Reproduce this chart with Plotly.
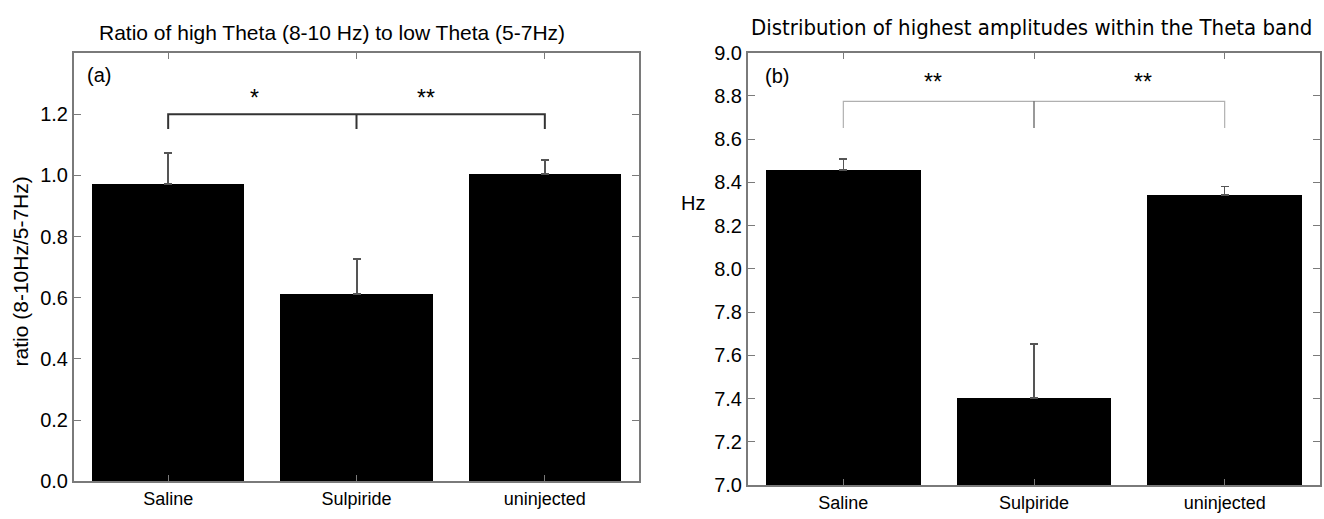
import plotly.graph_objects as go

# ---------------- data ----------------
categories = ["Saline", "Sulpiride", "uninjected"]

# panel (a): ratio of high theta to low theta
ratio_mean = [0.972, 0.611, 1.005]
ratio_err_up = [0.101, 0.116, 0.045]
ratio_ticks = [0.0, 0.2, 0.4, 0.6, 0.8, 1.0, 1.2]
ratio_range = [0.0, 1.4]
bracket_a_top = 1.2
bracket_a_low = 1.152
stars_a_pos = [0.46, 1.37]
stars_a_y = [1.253, 1.253]
stars_a_text = ["*", "**"]

# panel (b): peak frequency within theta band (Hz)
hz_mean = [8.457, 7.403, 8.342]
hz_err_up = [0.052, 0.25, 0.040]
hz_ticks = [7.0, 7.2, 7.4, 7.6, 7.8, 8.0, 8.2, 8.4, 8.6, 8.8, 9.0]
hz_range = [7.0, 9.0]
bracket_b_top = 8.775
bracket_b_low = 8.652
stars_b_pos = [0.47, 1.57]
stars_b_y = [8.865, 8.865]
stars_b_text = ["**", "**"]

title_a = "Ratio of high Theta (8-10 Hz) to low Theta (5-7Hz)"
title_b = "Distribution of highest amplitudes within the Theta band"
ylabel_a = "ratio (8-10Hz/5-7Hz)"
ylabel_b = "Hz"

# ---------------- figure ----------------
W, H = 1324, 519
FONT = "Liberation Sans, Arial, Helvetica, sans-serif"
NARROW = "Liberation Sans Narrow, Arial Narrow, DejaVu Sans Condensed, sans-serif"
AXC = "#7a7a7a"

fig = go.Figure()

fig.add_trace(go.Bar(
    x=categories, y=ratio_mean, width=0.81,
    marker=dict(color="black", line=dict(width=0)),
    error_y=dict(type="data", symmetric=False, array=ratio_err_up,
                 arrayminus=[0] * len(ratio_mean), color="#555555",
                 thickness=2, width=4),
    xaxis="x", yaxis="y", showlegend=False, hoverinfo="skip"))

fig.add_trace(go.Bar(
    x=categories, y=[v - hz_range[0] for v in hz_mean], base=hz_range[0], width=0.81,
    marker=dict(color="black", line=dict(width=0)),
    error_y=dict(type="data", symmetric=False, array=hz_err_up,
                 arrayminus=[0] * len(hz_mean), color="#555555",
                 thickness=1.5, width=4),
    xaxis="x2", yaxis="y2", showlegend=False, hoverinfo="skip"))

# significance brackets (drawn from category positions and bracket levels)
fig.add_trace(go.Scatter(
    x=[categories[0], categories[0], categories[2], categories[2], None,
       categories[1], categories[1]],
    y=[bracket_a_low, bracket_a_top, bracket_a_top, bracket_a_low, None,
       bracket_a_top, bracket_a_low],
    mode="lines", line=dict(color="#333333", width=2),
    xaxis="x", yaxis="y", showlegend=False, hoverinfo="skip"))

fig.add_trace(go.Scatter(
    x=[categories[0], categories[0], categories[2], categories[2]],
    y=[bracket_b_low, bracket_b_top, bracket_b_top, bracket_b_low],
    mode="lines", line=dict(color="#b0b0b0", width=1.2),
    xaxis="x2", yaxis="y2", showlegend=False, hoverinfo="skip"))
fig.add_trace(go.Scatter(
    x=[categories[1], categories[1]],
    y=[bracket_b_top, bracket_b_low],
    mode="lines", line=dict(color="#555555", width=1.2),
    xaxis="x2", yaxis="y2", showlegend=False, hoverinfo="skip"))

common_x = dict(type="category", range=[-0.5, 2.5], showline=True, linecolor=AXC,
                linewidth=2, mirror="ticks", ticks="inside", ticklen=6,
                tickcolor=AXC, tickwidth=1.2, showgrid=False, zeroline=False,
                tickfont=dict(family=FONT, size=18, color="black"))
common_y = dict(showline=True, linecolor=AXC, linewidth=2, mirror="ticks",
                ticks="inside", ticklen=7, tickcolor=AXC, tickwidth=1.2,
                showgrid=False, zeroline=False, tickformat=".1f",
                tickfont=dict(family=FONT, size=20, color="black"))

fig.update_layout(
    width=W, height=H, margin=dict(l=0, r=0, t=0, b=0),
    paper_bgcolor="white", plot_bgcolor="white",
    xaxis=dict(domain=[74 / W, 639 / W], anchor="y", **common_x),
    yaxis=dict(domain=[1 - 491 / H, 1 - 44 / H], anchor="x", range=ratio_range,
               tickvals=ratio_ticks, **common_y),
    xaxis2=dict(domain=[748 / W, 1320 / W], anchor="y2", **common_x),
    yaxis2=dict(domain=[1 - 495 / H, 1 - 43.5 / H], anchor="x2", range=hz_range,
                tickvals=hz_ticks, **common_y),
    bargap=0,
)

ann = []
ann.append(dict(text=title_a, xref="paper", yref="paper", x=332 / W, y=1 - 22 / H,
                xanchor="center", yanchor="middle", showarrow=False,
                font=dict(family=FONT, size=21, color="black")))
ann.append(dict(text=title_b, xref="paper", yref="paper", x=1031 / W, y=1 - 17 / H,
                xanchor="center", yanchor="middle", showarrow=False,
                font=dict(family=NARROW, size=22, color="black")))
ann.append(dict(text=ylabel_a, xref="paper", yref="paper", x=20 / W, y=1 - 272 / H,
                xanchor="center", yanchor="middle", textangle=-90, showarrow=False,
                font=dict(family=FONT, size=21, color="black")))
ann.append(dict(text=ylabel_b, xref="paper", yref="paper", x=693 / W, y=1 - 200 / H,
                xanchor="center", yanchor="middle", showarrow=False,
                font=dict(family=FONT, size=20, color="black")))
ann.append(dict(text="(a)", xref="x domain", yref="y domain", x=0.02, y=0.95,
                xanchor="left", yanchor="middle", showarrow=False,
                font=dict(family=FONT, size=20, color="black")))
ann.append(dict(text="(b)", xref="x2 domain", yref="y2 domain", x=0.027, y=0.945,
                xanchor="left", yanchor="middle", showarrow=False,
                font=dict(family=FONT, size=20, color="black")))
for px, py, t in zip(stars_a_pos, stars_a_y, stars_a_text):
    ann.append(dict(text=t, xref="x", yref="y", x=px, y=py, showarrow=False,
                    xanchor="center", yanchor="middle",
                    font=dict(family=FONT, size=23, color="black")))
for px, py, t in zip(stars_b_pos, stars_b_y, stars_b_text):
    ann.append(dict(text=t, xref="x2", yref="y2", x=px, y=py, showarrow=False,
                    xanchor="center", yanchor="middle",
                    font=dict(family=FONT, size=23, color="black")))
fig.update_layout(annotations=ann)

fig.write_html("out.html")
